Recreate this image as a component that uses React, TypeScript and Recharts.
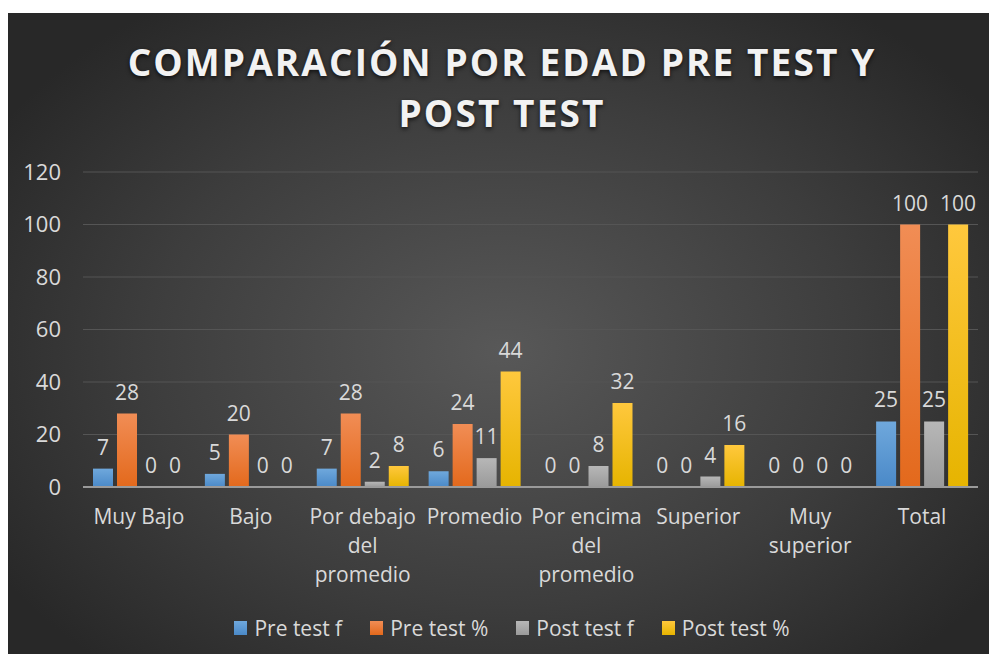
import { BarChart, Bar, XAxis, YAxis, CartesianGrid, LabelList } from "recharts";

const categories = ["Muy Bajo", "Bajo", "Por debajo del promedio", "Promedio", "Por encima del promedio", "Superior", "Muy superior", "Total"];
const preTestF = [7, 5, 7, 6, 0, 0, 0, 25];
const preTestPct = [28, 20, 28, 24, 0, 0, 0, 100];
const postTestF = [0, 0, 2, 11, 8, 4, 0, 25];
const postTestPct = [0, 0, 8, 44, 32, 16, 0, 100];
const yTicks = [0, 20, 40, 60, 80, 100, 120];

const series = [
  { key: "preF", name: "Pre test f", top: "#6fa8dc", bottom: "#4a89c8" },
  { key: "prePct", name: "Pre test %", top: "#f18d55", bottom: "#e3691c" },
  { key: "postF", name: "Post test f", top: "#b7b7b7", bottom: "#9a9a9a" },
  { key: "postPct", name: "Post test %", top: "#ffc83d", bottom: "#e6b400" },
];

const data = categories.map((c, i) => ({
  name: c,
  preF: preTestF[i],
  prePct: preTestPct[i],
  postF: postTestF[i],
  postPct: postTestPct[i],
}));

const FONT = "'Open Sans', sans-serif";
const TEXT = "#d9d9d9";

// wrap label words like Excel does in the narrow category slots
function wrap(label: string, max = 11) {
  const lines: string[] = [];
  let cur = "";
  label.split(" ").forEach(w => {
    if (cur && (cur + " " + w).length > max) {
      lines.push(cur);
      cur = w;
    } else {
      cur = cur ? cur + " " + w : w;
    }
  });
  if (cur) lines.push(cur);
  return lines;
}

function CategoryTick(props: any) {
  const { x, y, payload } = props;
  const lines = wrap(payload.value);
  return (
    <text x={x} y={y} textAnchor="middle" fill={TEXT} fontSize={21} fontFamily={FONT}>
      {lines.map((l, i) => (
        <tspan key={i} x={x} dy={29}>{l}</tspan>
      ))}
    </text>
  );
}

export default function App() {
  return (
    <div style={{ position: "relative", width: 997, height: 662, margin: -8, background: "#fff", overflow: "hidden" }}>
      <div
        style={{
          position: "absolute",
          left: 7,
          top: 13,
          width: 990,
          height: 649,
          background: "radial-gradient(ellipse 60% 65% at 50% 52%, #585858 0%, #3d3d3d 60%, #282828 100%)",
        }}
      />
      <div
        style={{
          position: "absolute",
          left: 7,
          width: 990,
          top: 36,
          textAlign: "center",
          color: "#f2f2f2",
          fontFamily: FONT,
          fontWeight: 700,
          fontSize: 37,
          letterSpacing: 2.1,
          lineHeight: "51px",
          textShadow: "0 2px 4px rgba(0,0,0,0.7)",
        }}
      >
        COMPARACIÓN POR EDAD PRE TEST Y<br />POST TEST
      </div>
      <div style={{ position: "absolute", left: 0, top: 0 }}>
        <BarChart
          width={997}
          height={662}
          data={data}
          margin={{ top: 172, right: 19, bottom: 75, left: 23 }}
          barCategoryGap={10}
          barGap={4}
        >
          <defs>
            {series.map(s => (
              <linearGradient key={s.key} id={`g-${s.key}`} x1="0" y1="0" x2="0" y2="1">
                <stop offset="0%" stopColor={s.top} />
                <stop offset="100%" stopColor={s.bottom} />
              </linearGradient>
            ))}
          </defs>
          <CartesianGrid vertical={false} stroke="#555555" strokeWidth={1} />
          <XAxis
            dataKey="name"
            height={100}
            interval={0}
            axisLine={{ stroke: "#9a9a9a", strokeWidth: 2 }}
            tickLine={false}
            tick={<CategoryTick />}
          />
          <YAxis
            width={60}
            domain={[0, 120]}
            ticks={yTicks}
            axisLine={false}
            tickLine={false}
            tickSize={0}
            tickMargin={22}
            tick={{ fill: TEXT, fontSize: 22, fontFamily: FONT }}
          />
          {series.map(s => (
            <Bar
              key={s.key}
              dataKey={s.key}
              name={s.name}
              fill={`url(#g-${s.key})`}
              minPointSize={0.01}
              isAnimationActive={false}
            >
              <LabelList dataKey={s.key} position="top" offset={14} fill={TEXT} fontSize={21} fontFamily={FONT} />
            </Bar>
          ))}
        </BarChart>
      </div>
      <div
        style={{
          position: "absolute",
          left: 0,
          width: 1024,
          top: 614,
          display: "flex",
          justifyContent: "center",
          gap: 28,
          fontFamily: FONT,
          fontSize: 21,
          color: TEXT,
        }}
      >
        {series.map(s => (
          <div key={s.key} style={{ display: "flex", alignItems: "center", gap: 7 }}>
            <span style={{ width: 13, height: 14, background: `linear-gradient(${s.top}, ${s.bottom})`, display: "inline-block" }} />
            <span>{s.name}</span>
          </div>
        ))}
      </div>
    </div>
  );
}
